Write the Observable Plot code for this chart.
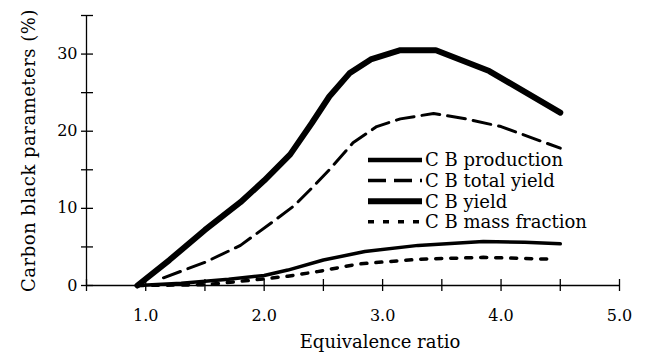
<!DOCTYPE html>
<html><head><meta charset="utf-8">
<script src="https://cdn.jsdelivr.net/npm/d3@7"></script>
<script src="https://cdn.jsdelivr.net/npm/@observablehq/plot@0.6"></script>
<style>
body{margin:0;background:#fff}
#chart{position:relative;width:647px;height:356px}
</style>
</head><body><div id="chart"></div>
<script>
// ---- data ----
const xTitle = "Equivalence ratio";
const yTitle = "Carbon black parameters (%)";
const xTicks = [0.5, 1.0, 1.5, 2.0, 2.5, 3.0, 3.5, 4.0, 4.5, 5.0];
const xLabels = [1.0, 2.0, 3.0, 4.0, 5.0];
const yTicks = [0, 5, 10, 15, 20, 25, 30, 35];
const yLabels = [0, 10, 20, 30];
const seriesNames = ["C B production", "C B total yield", "C B yield", "C B mass fraction"];

const yieldX = [0.93, 1.2, 1.5, 1.8, 2.0, 2.22, 2.4, 2.55, 2.72, 2.9, 3.15, 3.45, 3.9, 4.5];
const yieldY = [0, 3.3, 7.2, 10.8, 13.6, 17.0, 21.0, 24.5, 27.5, 29.3, 30.5, 30.5, 27.8, 22.4];

const totalX = [1.15, 1.5, 1.8, 2.05, 2.25, 2.4, 2.55, 2.75, 2.95, 3.15, 3.43, 3.7, 4.0, 4.5];
const totalY = [1.0, 3.0, 5.2, 8.0, 10.3, 12.6, 15.0, 18.5, 20.6, 21.6, 22.3, 21.6, 20.6, 17.8];

const prodX = [0.93, 1.3, 1.7, 2.0, 2.2, 2.5, 2.85, 3.3, 3.85, 4.2, 4.5];
const prodY = [0, 0.3, 0.8, 1.3, 2.0, 3.3, 4.4, 5.2, 5.7, 5.6, 5.4];

const massX = [0.93, 1.5, 1.9, 2.2, 2.45, 2.8, 3.3, 3.85, 4.45];
const massY = [0, 0.1, 0.7, 1.2, 1.8, 2.8, 3.4, 3.65, 3.4];

// ---- build tables ----
const toRows = (xs, ys) => xs.map((x, i) => ({x, y: ys[i]}));
const styles = {
  "C B production":    {sw: 3.5, dash: null,   lsw: 4.5},
  "C B total yield":   {sw: 3,   dash: "18,8", lsw: 3.5},
  "C B yield":         {sw: 6,   dash: null,   lsw: 6},
  "C B mass fraction": {sw: 3.5, dash: "6,9",  lsw: 3.5}
};
const seriesData = {
  "C B production": toRows(prodX, prodY),
  "C B total yield": toRows(totalX, totalY),
  "C B yield": toRows(yieldX, yieldY),
  "C B mass fraction": toRows(massX, massY)
};

const font = "'DejaVu Serif', serif";

const plot = Plot.plot({
  width: 647, height: 356,
  marginLeft: 86, marginRight: 28, marginTop: 15, marginBottom: 71,
  x: {domain: [0.5, 5.0]},
  y: {domain: [0, 35]},
  style: {fontFamily: font, fontSize: "16px", color: "#000", background: "#fff"},
  marks: [
    Plot.ruleY([0], {stroke: "#000", strokeWidth: 1.3}),
    Plot.ruleX([xTicks[0]], {stroke: "#000", strokeWidth: 1.3}),
    Plot.axisX(xTicks, {tickSize: 12, dy: -6, text: null, label: null, strokeWidth: 1.3}),
    Plot.axisX(xLabels, {tickSize: 0, tickPadding: 24, label: null, tickFormat: d => d.toFixed(1), fontSize: 16}),
    Plot.axisY(yTicks, {tickSize: 12, dx: 7, text: null, label: null, strokeWidth: 1.3}),
    Plot.axisY(yLabels, {tickSize: 0, tickPadding: 9, label: null, fontSize: 16}),
    ...seriesNames.map(n => Plot.line(seriesData[n], {
      x: "x", y: "y", stroke: "#000", strokeWidth: styles[n].sw,
      strokeDasharray: styles[n].dash, strokeLinejoin: "round"
    })),
    Plot.text([xTitle], {frameAnchor: "bottom", dx: 27, dy: 62, fontSize: 18, textAnchor: "middle", text: d => d}),
    Plot.text([yTitle], {frameAnchor: "left", rotate: -90, dx: -57, dy: 0, fontSize: 18, textAnchor: "middle", text: d => d})
  ]
});

// slight letter spacing on the rotated y title, as in the scan
d3.select(plot).selectAll("text").filter(function() { return this.textContent === yTitle; })
  .attr("letter-spacing", "0.5px");

// legend
const svg = d3.select(plot);
const lg = svg.append("g").attr("font-family", font).attr("font-size", 18)
  .attr("fill", "#000").attr("text-anchor", "start");
seriesNames.forEach((n, i) => {
  const yy = 160 + i * 20.6;
  lg.append("line").attr("x1", 368).attr("x2", 422).attr("y1", yy).attr("y2", yy)
    .attr("stroke", "#000").attr("stroke-width", styles[n].lsw)
    .attr("stroke-dasharray", styles[n].dash);
  lg.append("text").attr("x", 425).attr("y", yy).attr("dy", "0.35em").text(n);
});

document.getElementById("chart").appendChild(plot);
</script>
</body></html>
